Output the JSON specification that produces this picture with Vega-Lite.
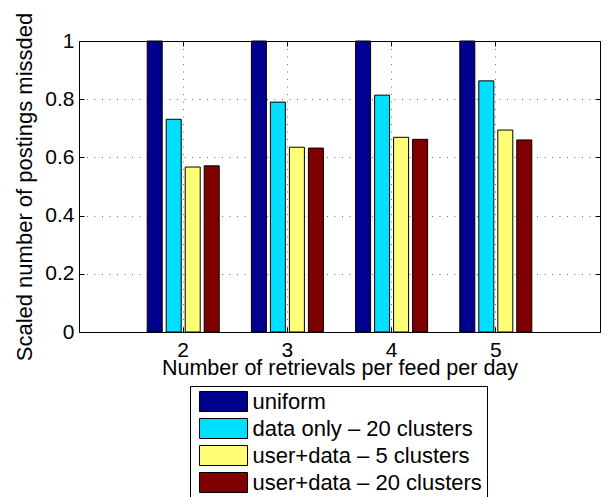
{
  "$schema": "https://vega.github.io/schema/vega-lite/v6.json",
  "width": 521,
  "height": 291,
  "autosize": "none",
  "padding": {"left": 79, "top": 41, "right": 8, "bottom": 165},
  "background": "white",
  "config": {
    "font": "Liberation Sans",
    "view": {"stroke": "black", "strokeWidth": 1},
    "axis": {
      "domainColor": "black",
      "domainWidth": 1,
      "tickColor": "black",
      "tickWidth": 1,
      "tickSize": -5,
      "labelColor": "black",
      "labelFont": "Liberation Sans",
      "labelFontSize": 21,
      "titleColor": "black",
      "titleFont": "Liberation Sans",
      "titleFontWeight": "normal",
      "titleFontSize": 22,
      "gridColor": "black",
      "gridOpacity": 0.7,
      "gridWidth": 0.8,
      "gridDash": [1, 6.5]
    }
  },
  "data": {
    "values": [
      {"retrievals": 2, "method": "uniform", "missed": 1.0},
      {"retrievals": 2, "method": "data only – 20 clusters", "missed": 0.731},
      {"retrievals": 2, "method": "user+data – 5 clusters", "missed": 0.567},
      {"retrievals": 2, "method": "user+data – 20 clusters", "missed": 0.571},
      {"retrievals": 3, "method": "uniform", "missed": 1.0},
      {"retrievals": 3, "method": "data only – 20 clusters", "missed": 0.790},
      {"retrievals": 3, "method": "user+data – 5 clusters", "missed": 0.635},
      {"retrievals": 3, "method": "user+data – 20 clusters", "missed": 0.632},
      {"retrievals": 4, "method": "uniform", "missed": 1.0},
      {"retrievals": 4, "method": "data only – 20 clusters", "missed": 0.814},
      {"retrievals": 4, "method": "user+data – 5 clusters", "missed": 0.669},
      {"retrievals": 4, "method": "user+data – 20 clusters", "missed": 0.662},
      {"retrievals": 5, "method": "uniform", "missed": 1.0},
      {"retrievals": 5, "method": "data only – 20 clusters", "missed": 0.863},
      {"retrievals": 5, "method": "user+data – 5 clusters", "missed": 0.694},
      {"retrievals": 5, "method": "user+data – 20 clusters", "missed": 0.660}
    ]
  },
  "layer": [
    {
      "mark": {"type": "bar", "stroke": "black", "strokeWidth": 1},
      "encoding": {
        "x": {
          "field": "retrievals",
          "type": "ordinal",
          "scale": {"domain": [2, 3, 4, 5], "paddingInner": 0, "paddingOuter": 0.5},
          "axis": {
            "orient": "bottom",
            "title": "Number of retrievals per feed per day",
            "titleFontSize": 21.5,
            "labelAngle": 0,
            "grid": true,
            "labelPadding": 12,
            "titlePadding": -3
          }
        },
        "xOffset": {
          "field": "method",
          "type": "nominal",
          "scale": {
            "domain": ["uniform", "data only – 20 clusters", "user+data – 5 clusters", "user+data – 20 clusters"],
            "paddingInner": 0.21,
            "paddingOuter": 0.847
          }
        },
        "y": {
          "field": "missed",
          "type": "quantitative",
          "scale": {"domain": [0, 1], "nice": false},
          "axis": {
            "orient": "left",
            "title": "Scaled number of postings missded",
            "values": [0, 0.2, 0.4, 0.6, 0.8, 1],
            "format": "~g",
            "grid": true,
            "labelPadding": 10,
            "titlePadding": 8
          }
        },
        "color": {
          "field": "method",
          "type": "nominal",
          "scale": {
            "domain": ["uniform", "data only – 20 clusters", "user+data – 5 clusters", "user+data – 20 clusters"],
            "range": ["#00008F", "#00DFFF", "#FFFF77", "#800000"]
          },
          "legend": {
            "orient": "none",
            "legendX": 111,
            "legendY": 345,
            "title": null,
            "padding": 4.5,
            "fillColor": "white",
            "strokeColor": "black",
            "symbolType": "M-2.4,-1H2.4V1H-2.4Z",
            "symbolSize": 400,
            "symbolStrokeColor": "black",
            "symbolStrokeWidth": 1,
            "symbolOpacity": 1,
            "symbolOffset": 18,
            "labelOffset": 18,
            "labelFont": "Liberation Sans",
            "labelFontSize": 22,
            "labelColor": "black",
            "labelLimit": 400,
            "rowPadding": 3
          }
        }
      }
    },
    {
      "mark": {"type": "bar", "opacity": 0},
      "encoding": {
        "x": {
          "field": "retrievals",
          "type": "ordinal",
          "axis": {"orient": "top", "title": null, "labels": false, "domain": false, "grid": false}
        },
        "y": {
          "field": "missed",
          "type": "quantitative",
          "axis": {
            "orient": "right",
            "title": null,
            "labels": false,
            "domain": false,
            "grid": false,
            "values": [0, 0.2, 0.4, 0.6, 0.8, 1]
          }
        }
      }
    }
  ],
  "resolve": {"axis": {"x": "independent", "y": "independent"}}
}
